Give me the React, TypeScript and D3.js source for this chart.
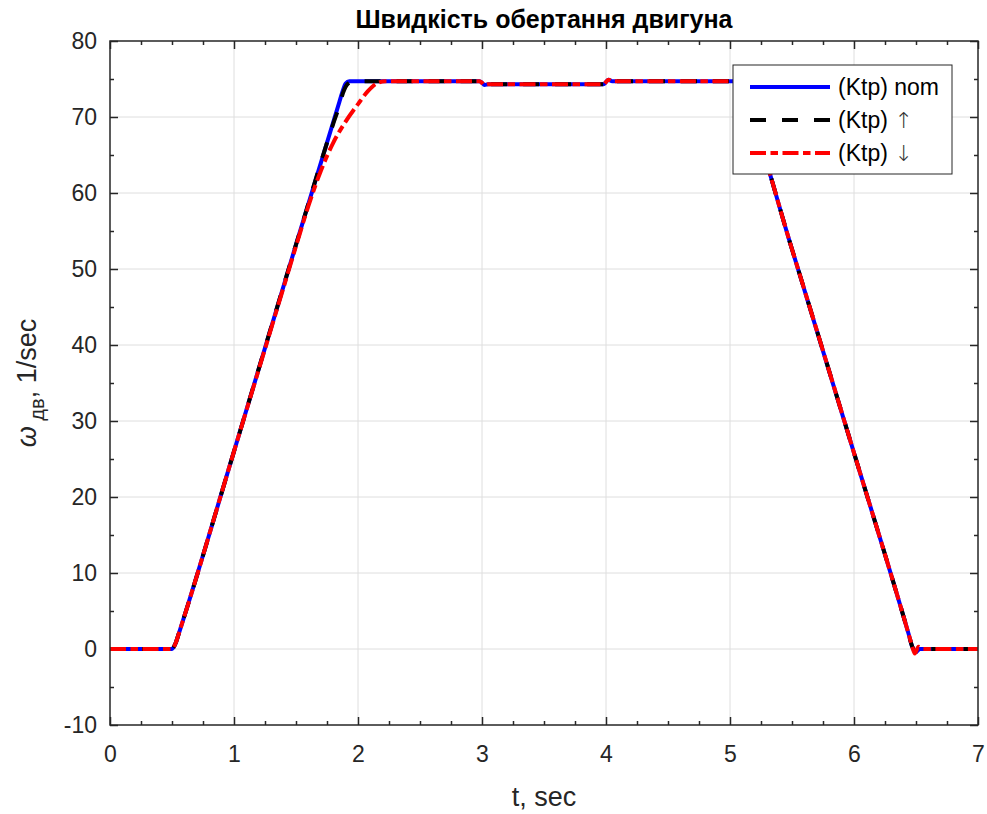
import React, { useEffect, useRef } from "react";
import * as d3 from "d3";

// time (sec) / speed (1/sec) points
const nomT = [0, 0.5, 0.53, 0.56, 1.0, 1.5, 1.85, 1.88, 1.9, 1.93, 2.5, 2.98, 3.0, 3.02, 3.05, 3.5, 3.98, 4.0, 4.02, 4.05, 4.5, 5.05, 5.08, 5.11, 5.5, 6.0, 6.44, 6.47, 6.5, 6.53, 7.0];
const nomW = [0, 0, 0.8, 2.3, 26, 53.2, 72, 73.6, 74.4, 74.7, 74.7, 74.7, 74.5, 74.2, 74.3, 74.3, 74.3, 74.6, 74.9, 74.7, 74.7, 74.7, 74.4, 73.2, 52.6, 25.8, 2.0, 0.3, -0.4, 0, 0];

const upT = [0, 0.5, 0.53, 0.56, 1.0, 1.5, 1.8, 1.85, 1.88, 1.92, 1.96, 2.5, 2.98, 3.0, 3.02, 3.05, 3.5, 3.98, 4.0, 4.02, 4.05, 4.5, 5.05, 5.08, 5.11, 5.5, 6.0, 6.44, 6.47, 6.5, 6.53, 7.0];
const upW = [0, 0, 0.8, 2.3, 26, 53.2, 69.1, 71.5, 73.2, 74.4, 74.7, 74.7, 74.7, 74.5, 74.2, 74.3, 74.3, 74.3, 74.6, 74.9, 74.7, 74.7, 74.7, 74.4, 73.2, 52.6, 25.8, 2.0, 0.3, -0.4, 0, 0];

const downT = [0, 0.5, 0.53, 0.56, 1.0, 1.4, 1.5, 1.6, 1.7, 1.8, 1.9, 2.0, 2.08, 2.15, 2.22, 2.5, 2.98, 3.0, 3.02, 3.05, 3.5, 3.98, 4.0, 4.02, 4.05, 4.5, 5.05, 5.08, 5.11, 5.5, 6.0, 6.44, 6.47, 6.49, 6.52, 6.56, 7.0];
const downW = [0, 0, 0.8, 2.3, 26, 47.6, 53.0, 58.3, 62.9, 66.6, 69.4, 71.7, 73.4, 74.4, 74.7, 74.7, 74.7, 74.5, 74.2, 74.3, 74.3, 74.3, 74.6, 74.9, 74.7, 74.7, 74.7, 74.4, 73.2, 52.6, 25.8, 2.0, 0.3, -0.6, 0.3, 0, 0];

const legendLabels = ["(Ktp) nom", "(Ktp) ", "(Ktp) "];
const legendArrows = ["", "\u2191", "\u2193"];
const xTicks = [0, 1, 2, 3, 4, 5, 6, 7];
const yTicks = [-10, 0, 10, 20, 30, 40, 50, 60, 70, 80];

const App = () => {
  const ref = useRef<SVGSVGElement>(null);

  useEffect(() => {
    document.body.style.margin = "0";
    drawChart();
  }, []);

  const drawChart = () => {
    const width = 987;
    const height = 814;
    const plot = { left: 110, right: 978, top: 41, bottom: 725 };
    const font = "'Liberation Sans', Arial, Helvetica, sans-serif";
    const axisColor = "#262626";

    const svg = d3.select(ref.current);
    svg.selectAll("*").remove();
    svg.attr("width", width).attr("height", height);

    //scales
    const x = d3.scaleLinear().domain([0, 7]).range([plot.left, plot.right]);
    const y = d3.scaleLinear().domain([-10, 80]).range([plot.bottom, plot.top]);

    svg.append("rect").attr("width", width).attr("height", height).attr("fill", "#fff");

    //grid
    const grid = svg.append("g").attr("stroke", "#dedede").attr("stroke-width", 1);
    xTicks.slice(1, -1).forEach((t) => {
      grid.append("line").attr("x1", x(t)).attr("x2", x(t)).attr("y1", plot.top).attr("y2", plot.bottom);
    });
    yTicks.slice(1, -1).forEach((v) => {
      grid.append("line").attr("x1", plot.left).attr("x2", plot.right).attr("y1", y(v)).attr("y2", y(v));
    });

    //axes with inward ticks
    const xMinor = d3.range(0, 7.01, 0.25).filter((t) => !xTicks.includes(t));
    const yMinor = d3.range(-10, 80.01, 5).filter((v) => !yTicks.includes(v));

    const styleAxis = (g: any) => {
      g.select(".domain").remove();
      g.selectAll("line").attr("stroke", axisColor).attr("stroke-width", 1.5);
      g.selectAll("text").attr("fill", axisColor).style("font-family", font).style("font-size", "23px");
    };
    const noLabel = () => "";

    svg.append("g").attr("transform", `translate(0,${plot.bottom})`)
      .call(d3.axisBottom(x).tickValues(xTicks).tickSizeInner(-8).tickSizeOuter(0).tickPadding(21).tickFormat((d: any) => String(d)))
      .call(styleAxis);
    svg.append("g").attr("transform", `translate(0,${plot.bottom})`)
      .call(d3.axisBottom(x).tickValues(xMinor).tickSizeInner(-4).tickSizeOuter(0).tickFormat(noLabel))
      .call(styleAxis);
    svg.append("g").attr("transform", `translate(0,${plot.top})`)
      .call(d3.axisTop(x).tickValues(xTicks).tickSizeInner(-8).tickSizeOuter(0).tickFormat(noLabel))
      .call(styleAxis);
    svg.append("g").attr("transform", `translate(0,${plot.top})`)
      .call(d3.axisTop(x).tickValues(xMinor).tickSizeInner(-4).tickSizeOuter(0).tickFormat(noLabel))
      .call(styleAxis);

    svg.append("g").attr("transform", `translate(${plot.left},0)`)
      .call(d3.axisLeft(y).tickValues(yTicks).tickSizeInner(-8).tickSizeOuter(0).tickPadding(13).tickFormat((d: any) => String(d)))
      .call(styleAxis);
    svg.append("g").attr("transform", `translate(${plot.left},0)`)
      .call(d3.axisLeft(y).tickValues(yMinor).tickSizeInner(-4).tickSizeOuter(0).tickFormat(noLabel))
      .call(styleAxis);
    svg.append("g").attr("transform", `translate(${plot.right},0)`)
      .call(d3.axisRight(y).tickValues(yTicks).tickSizeInner(-8).tickSizeOuter(0).tickFormat(noLabel))
      .call(styleAxis);
    svg.append("g").attr("transform", `translate(${plot.right},0)`)
      .call(d3.axisRight(y).tickValues(yMinor).tickSizeInner(-4).tickSizeOuter(0).tickFormat(noLabel))
      .call(styleAxis);

    //clip + lines
    svg.append("clipPath").attr("id", "plotClip")
      .append("rect").attr("x", plot.left).attr("y", plot.top)
      .attr("width", plot.right - plot.left).attr("height", plot.bottom - plot.top);

    const line = d3.line<[number, number]>()
      .x((d) => x(d[0]))
      .y((d) => y(d[1]))
      .curve(d3.curveMonotoneX);

    const series = [
      { pts: d3.zip(nomT, nomW) as [number, number][], color: "#0000ff", dash: null },
      { pts: d3.zip(upT, upW) as [number, number][], color: "#000000", dash: "16,16" },
      { pts: d3.zip(downT, downW) as [number, number][], color: "#ff0000", dash: "16,4.5,7.5,4.5" },
    ];

    const lines = svg.append("g").attr("clip-path", "url(#plotClip)");
    series.forEach((s) => {
      lines.append("path")
        .attr("fill", "none")
        .attr("stroke", s.color)
        .attr("stroke-width", 4)
        .attr("stroke-dasharray", s.dash)
        .attr("d", line(s.pts));
    });

    //box
    svg.append("rect")
      .attr("x", plot.left).attr("y", plot.top)
      .attr("width", plot.right - plot.left).attr("height", plot.bottom - plot.top)
      .attr("fill", "none").attr("stroke", axisColor).attr("stroke-width", 1.5);

    //legend
    const legend = svg.append("g").attr("transform", "translate(733,65)");
    legend.append("rect").attr("width", 219).attr("height", 109)
      .attr("fill", "#fff").attr("stroke", axisColor).attr("stroke-width", 1);
    series.forEach((s, i) => {
      const ly = 22 + i * 33;
      legend.append("line")
        .attr("x1", 17).attr("x2", 97).attr("y1", ly).attr("y2", ly)
        .attr("stroke", s.color).attr("stroke-width", 4)
        .attr("stroke-dasharray", s.dash);
      const t = legend.append("text")
        .attr("x", 105).attr("y", ly + 8)
        .style("font-family", font).style("font-size", "23px")
        .attr("fill", "#000");
      t.append("tspan").text(legendLabels[i]);
      if (legendArrows[i]) {
        t.append("tspan")
          .style("font-family", "'DejaVu Sans Light', 'DejaVu Sans', sans-serif")
          .style("font-size", "22px")
          .attr("fill", "#333")
          .text(legendArrows[i]);
      }
    });

    //title and labels
    svg.append("text")
      .attr("x", (plot.left + plot.right) / 2).attr("y", 28)
      .attr("text-anchor", "middle")
      .style("font-family", font).style("font-size", "25px").style("font-weight", "bold")
      .attr("fill", "#000")
      .text("Швидкість обертання двигуна");

    svg.append("text")
      .attr("x", (plot.left + plot.right) / 2).attr("y", 806)
      .attr("text-anchor", "middle")
      .style("font-family", font).style("font-size", "27px")
      .attr("fill", axisColor)
      .text("t, sec");

    const yl = svg.append("text")
      .attr("transform", `translate(36,${(plot.top + plot.bottom) / 2}) rotate(-90)`)
      .attr("text-anchor", "middle")
      .style("font-family", font).style("font-size", "27px")
      .attr("fill", axisColor);
    yl.append("tspan").style("font-style", "italic").text("\u03c9");
    yl.append("tspan").attr("dy", 8).style("font-size", "20px").text("\u00a0дв");
    yl.append("tspan").attr("dy", -8).text(", 1/sec");
  };

  return <svg ref={ref} style={{ display: "block" }}></svg>;
};

export default App;
